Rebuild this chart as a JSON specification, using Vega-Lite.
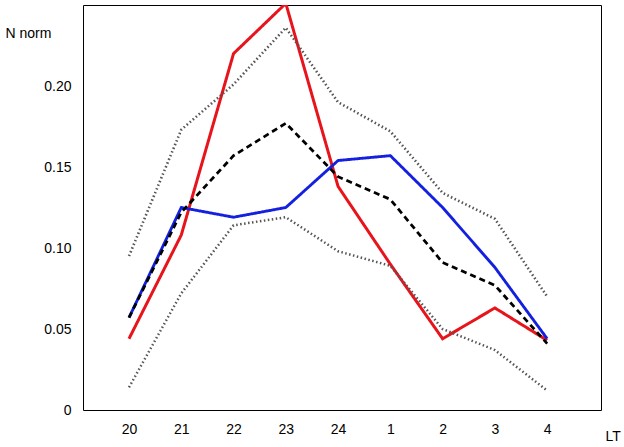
{
  "$schema": "https://vega.github.io/schema/vega-lite/v6.json",
  "width": 518,
  "height": 405,
  "padding": {"top": 5, "left": 5, "right": 5, "bottom": 5},
  "background": "#ffffff",
  "config": {
    "view": {"stroke": "black", "strokeWidth": 1},
    "axis": {
      "labelFont": "Liberation Sans",
      "labelFontSize": 14,
      "labelColor": "black",
      "titleFont": "Liberation Sans",
      "titleFontSize": 14,
      "titleFontWeight": "normal",
      "titleColor": "black",
      "grid": false,
      "domain": false,
      "ticks": false,
      "labelPadding": 12
    }
  },
  "data": {
    "values": [
      {"i": 0, "s": "red", "v": 0.044}, {"i": 1, "s": "red", "v": 0.108}, {"i": 2, "s": "red", "v": 0.220},
      {"i": 3, "s": "red", "v": 0.251}, {"i": 4, "s": "red", "v": 0.138}, {"i": 5, "s": "red", "v": 0.090},
      {"i": 6, "s": "red", "v": 0.044}, {"i": 7, "s": "red", "v": 0.063}, {"i": 8, "s": "red", "v": 0.043},
      {"i": 0, "s": "blue", "v": 0.057}, {"i": 1, "s": "blue", "v": 0.125}, {"i": 2, "s": "blue", "v": 0.119},
      {"i": 3, "s": "blue", "v": 0.125}, {"i": 4, "s": "blue", "v": 0.154}, {"i": 5, "s": "blue", "v": 0.157},
      {"i": 6, "s": "blue", "v": 0.125}, {"i": 7, "s": "blue", "v": 0.088}, {"i": 8, "s": "blue", "v": 0.044},
      {"i": 0, "s": "mean", "v": 0.057}, {"i": 1, "s": "mean", "v": 0.122}, {"i": 2, "s": "mean", "v": 0.157},
      {"i": 3, "s": "mean", "v": 0.177}, {"i": 4, "s": "mean", "v": 0.144}, {"i": 5, "s": "mean", "v": 0.130},
      {"i": 6, "s": "mean", "v": 0.091}, {"i": 7, "s": "mean", "v": 0.077}, {"i": 8, "s": "mean", "v": 0.041},
      {"i": 0, "s": "upper", "v": 0.095}, {"i": 1, "s": "upper", "v": 0.173}, {"i": 2, "s": "upper", "v": 0.201},
      {"i": 3, "s": "upper", "v": 0.236}, {"i": 4, "s": "upper", "v": 0.190}, {"i": 5, "s": "upper", "v": 0.172},
      {"i": 6, "s": "upper", "v": 0.134}, {"i": 7, "s": "upper", "v": 0.118}, {"i": 8, "s": "upper", "v": 0.070},
      {"i": 0, "s": "lower", "v": 0.014}, {"i": 1, "s": "lower", "v": 0.072}, {"i": 2, "s": "lower", "v": 0.114},
      {"i": 3, "s": "lower", "v": 0.119}, {"i": 4, "s": "lower", "v": 0.098}, {"i": 5, "s": "lower", "v": 0.089},
      {"i": 6, "s": "lower", "v": 0.050}, {"i": 7, "s": "lower", "v": 0.037}, {"i": 8, "s": "lower", "v": 0.012}
    ]
  },
  "mark": {"type": "line", "clip": true},
  "encoding": {
    "x": {
      "field": "i", "type": "quantitative",
      "scale": {"domain": [-0.88, 9.03], "nice": false, "zero": false},
      "axis": {
        "values": [0, 1, 2, 3, 4, 5, 6, 7, 8],
        "labelExpr": "['20','21','22','23','24','1','2','3','4'][datum.value]",
        "title": "LT", "titleAnchor": "end", "titleY": 19, "titleX": 522, "titleAlign": "left", "titleBaseline": "top"
      }
    },
    "y": {
      "field": "v", "type": "quantitative",
      "scale": {"domain": [0, 0.25], "nice": false},
      "axis": {
        "values": [0, 0.05, 0.1, 0.15, 0.2],
        "labelExpr": "datum.value == 0 ? '0' : format(datum.value, '.2f')",
        "title": "N norm", "titleAngle": 0, "titleAnchor": "end", "titleAlign": "left",
        "titleX": -78, "titleY": 35
      }
    },
    "detail": {"field": "s"},
    "color": {
      "field": "s", "type": "nominal", "legend": null,
      "scale": {"domain": ["red", "blue", "mean", "upper", "lower"], "range": ["#e8141c", "#1420e0", "black", "#555555", "#555555"]}
    },
    "strokeDash": {
      "field": "s", "type": "nominal", "legend": null,
      "scale": {"domain": ["red", "blue", "mean", "upper", "lower"], "range": [[1, 0], [1, 0], [6, 4], [1.5, 2.5], [1.5, 2.5]]}
    },
    "strokeWidth": {
      "field": "s", "type": "nominal", "legend": null,
      "scale": {"domain": ["red", "blue", "mean", "upper", "lower"], "range": [3, 2.5, 2.2, 1.2, 1.2]}
    }
  }
}
